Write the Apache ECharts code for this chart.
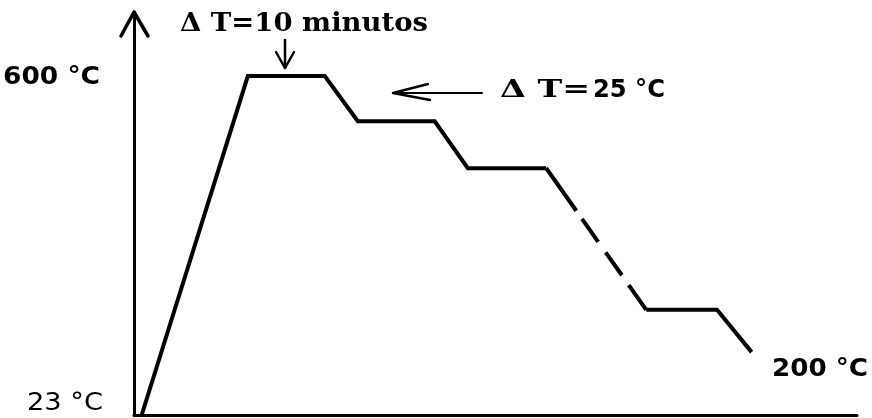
<!DOCTYPE html>
<html>
<head>
<meta charset="utf-8">
<script src="https://cdn.jsdelivr.net/npm/echarts@6/dist/echarts.min.js"></script>
<style>
  html, body { margin: 0; padding: 0; background: #fff; }
  #chart { width: 872px; height: 418px; }
</style>
</head>
<body>
<div id="chart"></div>
<script>
// tiempo (minutos) y temperatura (°C) del perfil
const minutesSolidA = [1.0, 14.8, 24.8, 29.1, 39.1, 43.4, 53.6];
const tempsSolidA = [23, 600, 600, 523, 523, 443, 443];
const minutesDashed = [53.6, 66.6];
const tempsDashed = [443, 202];
const minutesSolidB = [66.6, 75.8, 80.3];
const tempsSolidB = [202, 202, 130];

const tempLabels = ['600 °C', '23 °C', '200 °C'];
const stepLabel = ['Δ T=', '25 °C'];
const holdLabel = 'Δ T=10 minutos';

function pairs(xs, ys) {
    return xs.map(function (x, i) { return [x, ys[i]]; });
}

// ancho medido del texto para estirarlo como en la imagen original
const measureCtx = document.createElement('canvas').getContext('2d');
function text(str, x, y, font, width) {
    measureCtx.font = font;
    const w = measureCtx.measureText(str).width;
    return {
        type: 'text',
        x: x,
        y: y,
        scaleX: width / w,
        style: {
            text: str,
            font: font,
            fill: '#000',
            align: 'left',
            verticalAlign: 'middle'
        }
    };
}

function poly(points, width) {
    return {
        type: 'polyline',
        shape: { points: points },
        style: { stroke: '#000', lineWidth: width, fill: null, lineJoin: 'round', lineCap: 'round' }
    };
}

const myChart = echarts.init(document.getElementById('chart'));

const lineStyle = { color: '#000', width: 4, cap: 'butt', join: 'miter' };

const option = {
    animation: false,
    backgroundColor: '#fff',
    grid: {
        left: 134,
        right: 15,
        top: 12,
        bottom: 3
    },
    xAxis: {
        type: 'value',
        min: 0,
        max: 94,
        axisLine: { show: true, lineStyle: { color: '#000', width: 3 } },
        axisTick: { show: false },
        axisLabel: { show: false },
        splitLine: { show: false }
    },
    yAxis: {
        type: 'value',
        min: 23,
        max: 709,
        axisLine: { show: true, lineStyle: { color: '#000', width: 3 } },
        axisTick: { show: false },
        axisLabel: { show: false },
        splitLine: { show: false }
    },
    series: [
        {
            name: 'calentamiento',
            type: 'line',
            showSymbol: false,
            data: pairs(minutesSolidA, tempsSolidA),
            lineStyle: lineStyle
        },
        {
            name: 'escalones',
            type: 'line',
            showSymbol: false,
            data: pairs(minutesDashed, tempsDashed),
            lineStyle: {
                color: '#000',
                width: 4,
                cap: 'butt',
                type: [52, 10, 28, 13, 28, 12, 60]
            }
        },
        {
            name: 'final',
            type: 'line',
            showSymbol: false,
            data: pairs(minutesSolidB, tempsSolidB),
            lineStyle: lineStyle
        }
    ],
    graphic: [
        // punta de flecha del eje Y
        poly([[121, 36], [134, 12], [148, 36]], 3.5),
        // flecha hacia abajo
        poly([[285, 40], [285, 68]], 2.5),
        poly([[276, 52], [285, 68], [294, 52]], 2.5),
        // flecha hacia la izquierda
        poly([[393, 93], [482, 93]], 2),
        poly([[428, 84], [393, 93], [430, 100]], 2.5),
        text(tempLabels[0], 3, 78, 'bold 24px "DejaVu Sans"', 97),
        text(tempLabels[1], 27, 404, '24px "DejaVu Sans"', 76),
        text(tempLabels[2], 772, 369, 'bold 25px "DejaVu Sans"', 96),
        text(holdLabel, 180, 24, 'bold 26px "DejaVu Serif"', 248),
        text(stepLabel[0], 500, 91, 'bold 24px "DejaVu Serif"', 90),
        text(stepLabel[1], 593, 91, 'bold 24px "DejaVu Sans"', 72)
    ]
};

myChart.setOption(option);
</script>
</body>
</html>
